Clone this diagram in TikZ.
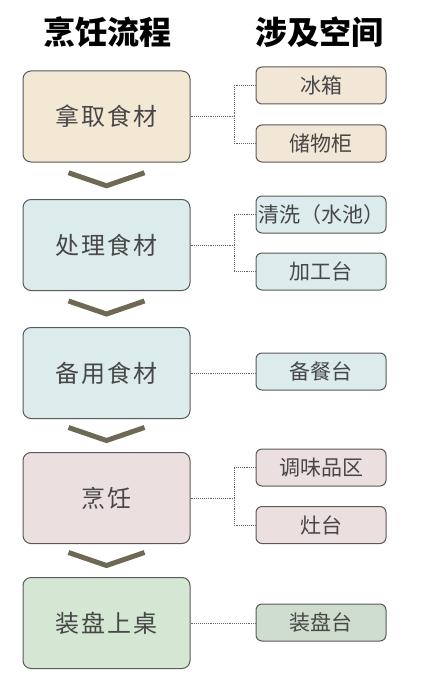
\documentclass[tikz,border=0pt]{standalone}
\usepackage{fontspec}
\setmainfont{Noto Sans CJK SC}
\usetikzlibrary{calc}
\begin{document}
\begin{tikzpicture}[x=1pt,y=-1pt,
  stepbox/.style={draw=black!65, line width=1pt, rounded corners=8pt, minimum width=167pt, minimum height=91pt, inner sep=0pt, font=\fontsize{24}{26}\selectfont\addfontfeature{LetterSpace=8}, text=black!72},
  spacebox/.style={draw=black!65, line width=1pt, rounded corners=6pt, minimum width=130pt, minimum height=37pt, inner sep=0pt, font=\fontsize{21}{23}\selectfont, text=black!72},
  link/.style={densely dotted, draw=black!60, line width=0.9pt},
  chev/.style={draw=chevc, line width=5pt},
  title/.style={font=\bfseries\fontsize{32}{34}\selectfont, text=black}]
\definecolor{cBeige}{HTML}{F3E8D4}
\definecolor{cBeigeR}{HTML}{F2E6D6}
\definecolor{cBlue}{HTML}{DCEBEB}
\definecolor{cPink}{HTML}{EBDFE0}
\definecolor{cGreen}{HTML}{D3E7D3}
\definecolor{cGreenR}{HTML}{CEDDCD}
\definecolor{chevc}{HTML}{6E6855}
\useasboundingbox (0,0) rectangle (424,674);
\fill[white] (0,0) rectangle (424,674);
\node[title] (t1) at (107,32) {烹饪流程};
\node[title] (t2) at (319,32) {涉及空间};
% step boxes
\node[stepbox, fill=cBeige] (s1) at (106.5,116.5) {拿取食材};
\node[stepbox, fill=cBlue] (s2) at (106.5,245) {处理食材};
\node[stepbox, fill=cBlue] (s3) at (106.5,373) {备用食材};
\node[stepbox, fill=cPink] (s4) at (106.5,498) {烹饪};
\node[stepbox, fill=cGreen] (s5) at (106.5,623) {装盘上桌};
% space boxes
\node[spacebox, fill=cBeigeR] (r1) at (321,85.5) {冰箱};
\node[spacebox, fill=cBeigeR] (r2) at (321,143.5) {储物柜};
\node[spacebox, fill=cBlue] (r3) at (321,214.5) {清洗（水池）};
\node[spacebox, fill=cBlue] (r4) at (321,271.5) {加工台};
\node[spacebox, fill=cBlue] (r5) at (321,371.5) {备餐台};
\node[spacebox, fill=cPink] (r6) at (321,467.5) {调味品区};
\node[spacebox, fill=cPink] (r7) at (321,525) {灶台};
\node[spacebox, fill=cGreenR] (r8) at (321,622.5) {装盘台};
% connectors
\coordinate (j1) at (234,116.5);
\coordinate (j2) at (234,245);
\coordinate (j4) at (234,498);
\draw[link] (s1.east) -- (j1) |- (r1.west);
\draw[link] (j1) |- (r2.west);
\draw[link] (s2.east) -- (j2) |- (r3.west);
\draw[link] (j2) |- (r4.west);
\draw[link] (s3.east) -- (s3.east -| r5.west);
\draw[link] (s4.east) -- (j4) |- (r6.west);
\draw[link] (j4) |- (r7.west);
\draw[link] (s5.east) -- (s5.east -| r8.west);
% chevrons
\foreach \a/\b in {s1/s2,s2/s3,s3/s4,s4/s5}{
  \coordinate (m) at ($(\a.south)!0.5!(\b.north)$);
  \draw[chev] ($(m)+(-38,-8)$) -- ($(m)+(0,5)$) -- ($(m)+(38,-8)$);
}
\end{tikzpicture}
\end{document}
